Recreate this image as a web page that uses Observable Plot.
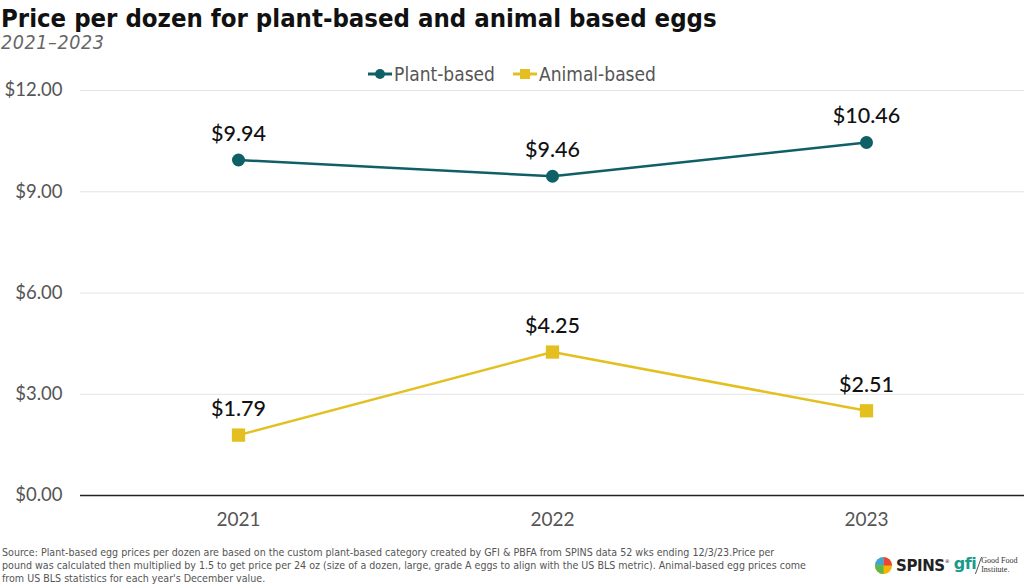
<!DOCTYPE html>
<html>
<head>
<meta charset="utf-8">
<script src="https://cdn.jsdelivr.net/npm/d3@7"></script>
<script src="https://cdn.jsdelivr.net/npm/@observablehq/plot@0.6"></script>
<style>
  html, body { margin: 0; padding: 0; background: #fff; width: 1024px; height: 584px; overflow: hidden; position: relative; }
  #title { position: absolute; left: 1px; top: 3px; font-family: "DejaVu Sans Condensed", "DejaVu Sans", sans-serif; font-weight: bold; font-size: 25.5px; color: #111; letter-spacing: 0px; white-space: nowrap; }
  #subtitle { position: absolute; left: 1px; top: 31px; font-family: "DejaVu Sans Condensed", "DejaVu Sans", sans-serif; font-style: italic; font-size: 19.5px; letter-spacing: 0.6px; color: #666; }
  #legend { position: absolute; left: 0; width: 1024px; top: 63px; text-align: center; font-family: "DejaVu Sans Condensed", sans-serif; font-size: 19px; color: #555; }
  #legend span.item { display: inline-flex; align-items: center; margin: 0 9px; }
  #legend svg { margin-right: 2px; }
  #chart { position: absolute; left: 0; top: 60px; }
  #source { position: absolute; left: 2px; top: 546px; white-space: nowrap; font-family: "DejaVu Sans Condensed", sans-serif; font-size: 10.6px; line-height: 12.8px; color: #555; }
  #logos { position: absolute; left: 874px; top: 556px; display: flex; align-items: center; font-family: "DejaVu Sans", sans-serif; white-space: nowrap; }
</style>
</head>
<body>
<div id="title">Price per dozen for plant-based and animal based eggs</div>
<div id="subtitle">2021–2023</div>
<div id="legend"></div>
<div id="chart"></div>
<div id="source">Source: Plant-based egg prices per dozen are based on the custom plant-based category created by GFI &amp; PBFA from SPINS data 52 wks ending 12/3/23.Price per<br>pound was calculated then multiplied by 1.5 to get price per 24 oz (size of a dozen, large, grade A eggs to align with the US BLS metric). Animal-based egg prices come<br>from US BLS statistics for each year's December value.</div>
<div id="logos">
  <svg width="19" height="19" viewBox="0 0 20 20"><circle cx="10" cy="10" r="9" fill="#f5b400"/><path d="M10 1 A9 9 0 0 1 19 10 L10 10 Z" fill="#e8453c"/><path d="M1 10 A9 9 0 0 1 10 1 L10 10 Z" fill="#3aa6dd"/><path d="M10 19 A9 9 0 0 1 1 10 L10 10 Z" fill="#5bb947"/></svg>
  <span style="font-weight:bold;font-size:15px;color:#222;margin-left:3px;letter-spacing:-0.4px">SPINS</span>
  <span style="font-size:5px;color:#222;align-self:flex-start;margin-top:2px">®</span>
  <span style="font-weight:bold;font-size:16px;color:#1a9a8a;margin-left:4px;margin-top:-4px;letter-spacing:-0.5px">gfi</span>
  <span style="display:inline-block;width:1px;height:17px;background:#555;margin:0 2px;transform:skewX(-20deg)"></span>
  <span style="font-family:'Liberation Serif',serif;font-size:8px;line-height:8.5px;color:#333;white-space:nowrap">Good Food<br>Institute.</span>
</div>
<script>
const years = ["2021", "2022", "2023"];
const plantBased = [9.94, 9.46, 10.46];
const animalBased = [1.79, 4.25, 2.51];
const seriesNames = ["Plant-based", "Animal-based"];
const seriesColors = ["#0f5f66", "#e3c020"];
const yTicks = [0, 3, 6, 9, 12];

const data = [
  ...years.map((y, i) => ({year: y, value: plantBased[i], series: seriesNames[0]})),
  ...years.map((y, i) => ({year: y, value: animalBased[i], series: seriesNames[1]}))
];
const plant = data.filter(d => d.series === seriesNames[0]);
const animal = data.filter(d => d.series === seriesNames[1]);

// legend
const legend = document.getElementById("legend");
seriesNames.forEach((name, i) => {
  const item = document.createElement("span");
  item.className = "item";
  const marker = i === 0
    ? `<circle cx="12" cy="8" r="5" fill="${seriesColors[i]}"/>`
    : `<rect x="7" y="3" width="10" height="10" fill="${seriesColors[i]}"/>`;
  item.innerHTML = `<svg width="24" height="16"><line x1="0" x2="24" y1="8" y2="8" stroke="${seriesColors[i]}" stroke-width="3"/>${marker}</svg>${name}`;
  legend.appendChild(item);
});

const chart = Plot.plot({
  width: 1024,
  height: 470,
  marginLeft: 80,
  marginRight: 0,
  marginTop: 30,
  marginBottom: 35,
  style: {fontFamily: "Lato, sans-serif", background: "transparent"},
  x: {type: "point", domain: years, padding: 0.5, label: null},
  y: {domain: [0, 12], ticks: yTicks, label: null},
  marks: [
    Plot.gridY(yTicks.filter(t => t > 0), {stroke: "#e4e4e4", strokeOpacity: 1, strokeWidth: 1}),
    Plot.axisY({ticks: yTicks, tickSize: 0, tickPadding: 18, tickFormat: d => "$" + d.toFixed(2), fontSize: 18.5, fill: "#555", label: null}),
    Plot.axisX({tickSize: 0, tickPadding: 17, fontSize: 19, fill: "#555", label: null}),
    Plot.ruleY([0], {stroke: "#222", strokeWidth: 1.5}),
    Plot.line(plant, {x: "year", y: "value", stroke: seriesColors[0], strokeWidth: 2.5}),
    Plot.line(animal, {x: "year", y: "value", stroke: seriesColors[1], strokeWidth: 2.5}),
    Plot.dot(plant, {x: "year", y: "value", r: 6.5, fill: seriesColors[0], symbol: "circle"}),
    Plot.dot(animal, {x: "year", y: "value", r: 7.5, fill: seriesColors[1], symbol: "square"}),
    Plot.text(data, {x: "year", y: "value", text: d => "$" + d.value.toFixed(2), dy: -26, fontSize: 21.5, fill: "#111", fontWeight: 500})
  ]
});
document.getElementById("chart").appendChild(chart);
</script>
</body>
</html>
